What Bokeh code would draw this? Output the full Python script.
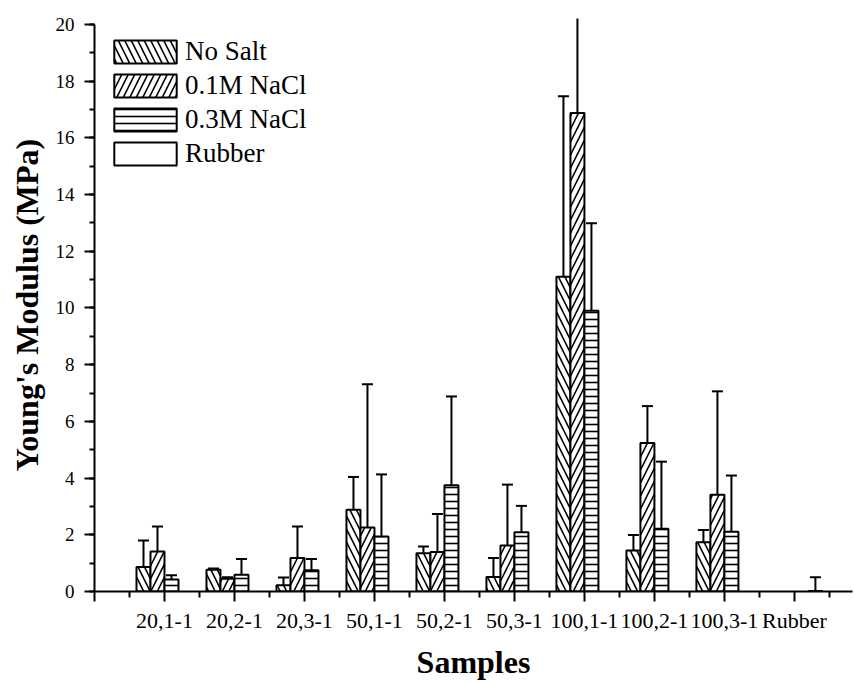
from bokeh.plotting import figure
from bokeh.models import (FixedTicker, Whisker, TeeHead, ColumnDataSource, Legend,
                          LegendItem, Range1d)
from bokeh.embed import file_html
from bokeh.resources import INLINE

# ---- data ----
samples = ["20,1-1", "20,2-1", "20,3-1", "50,1-1", "50,2-1", "50,3-1",
           "100,1-1", "100,2-1", "100,3-1", "Rubber"]
series_names = ["No Salt", "0.1M NaCl", "0.3M NaCl", "Rubber"]

no_salt = [0.86, 0.77, 0.22, 2.88, 1.35, 0.51, 11.10, 1.45, 1.74]
no_salt_err = [0.94, 0.04, 0.27, 1.16, 0.24, 0.67, 6.37, 0.54, 0.43]

nacl_01 = [1.41, 0.45, 1.18, 2.26, 1.39, 1.62, 16.88, 5.24, 3.41]
nacl_01_err = [0.88, 0.05, 1.11, 5.05, 1.34, 2.15, 4.12, 1.30, 3.65]

nacl_03 = [0.42, 0.59, 0.75, 1.94, 3.75, 2.09, 9.90, 2.21, 2.11]
nacl_03_err = [0.15, 0.56, 0.40, 2.19, 3.13, 0.93, 3.09, 2.37, 1.98]

rubber = [0.02]
rubber_err = [0.48]

# ---- styling / layout ----
FONT = "Liberation Serif"
offsets = [-0.3, -0.1, 0.1, 0.3]
bar_w = 0.2
hatches = ["\\", "/", "-", " "]
hatch_scales = [13, 13, 7, 12]

p = figure(width=854, height=682, output_backend="svg", toolbar_location=None,
           x_range=Range1d(0, 10.83), y_range=Range1d(0, 20.21),
           min_border_left=94, min_border_right=2, min_border_top=18,
           min_border_bottom=87)
p.outline_line_color = None
p.xgrid.visible = False
p.ygrid.visible = False
p.background_fill_color = "white"
p.border_fill_color = "white"

groups_main = list(range(1, 10))
series_data = [(no_salt, no_salt_err, groups_main),
               (nacl_01, nacl_01_err, groups_main),
               (nacl_03, nacl_03_err, groups_main),
               (rubber, rubber_err, [10])]

items = []
for k, (vals, errs, grp) in enumerate(series_data):
    xs = [g + offsets[k] for g in grp]
    src = ColumnDataSource(dict(x=xs, top=vals,
                                upper=[v + e for v, e in zip(vals, errs)]))
    w = Whisker(source=src, base="x", lower="top", upper="upper",
                dimension="height", line_color="black", line_width=2,
                upper_head=TeeHead(size=11, line_color="black", line_width=2),
                lower_head=None)
    p.add_layout(w)
    r = p.vbar(x="x", top="top", width=bar_w, bottom=0, source=src,
               fill_color="white", line_color="black", line_width=2,
               hatch_pattern=hatches[k], hatch_color="black",
               hatch_weight=1.6, hatch_scale=hatch_scales[k])
    items.append(LegendItem(label=series_names[k], renderers=[r]))

legend = Legend(items=items, location=(12, 422), margin=0, padding=0,
                spacing=3, glyph_width=78, glyph_height=29, label_standoff=1,
                label_text_font=FONT, label_text_font_size="27px",
                label_text_color="black", border_line_color=None,
                background_fill_alpha=0)
p.add_layout(legend)

# x axis
xa = p.xaxis[0]
xa.ticker = FixedTicker(ticks=list(range(0, 11)),
                        minor_ticks=[i + 0.5 for i in range(11)])
overrides = {0: ""}
for i, s in enumerate(samples):
    overrides[i + 1] = s
xa.major_label_overrides = overrides
xa.axis_label = "Samples"

# y axis
ya = p.yaxis[0]
ya.ticker = FixedTicker(ticks=list(range(0, 21, 2)), minor_ticks=list(range(0, 21)))
ya.bounds = (0, 20)
ya.axis_label = "Young's Modulus (MPa)"

for ax in (xa, ya):
    ax.axis_line_width = 2
    ax.axis_line_color = "black"
    ax.major_tick_line_width = 2
    ax.minor_tick_line_width = 2
    ax.major_tick_line_color = "black"
    ax.minor_tick_line_color = "black"
    ax.major_tick_in = 0
    ax.minor_tick_in = 0
    ax.major_tick_out = 10
    ax.major_label_text_font = FONT
    ax.major_label_text_color = "black"
    ax.axis_label_text_font = FONT
    ax.axis_label_text_font_style = "bold"
    ax.axis_label_text_font_size = "32px"
    ax.axis_label_text_color = "black"

xa.minor_tick_out = 6
xa.major_label_text_font_size = "22px"
xa.major_label_standoff = 6
xa.axis_label_standoff = 8
ya.minor_tick_out = 5
ya.major_label_text_font_size = "19px"
ya.major_label_standoff = 10
ya.axis_label_standoff = 8

open("out.html", "w").write(file_html(p, INLINE))
